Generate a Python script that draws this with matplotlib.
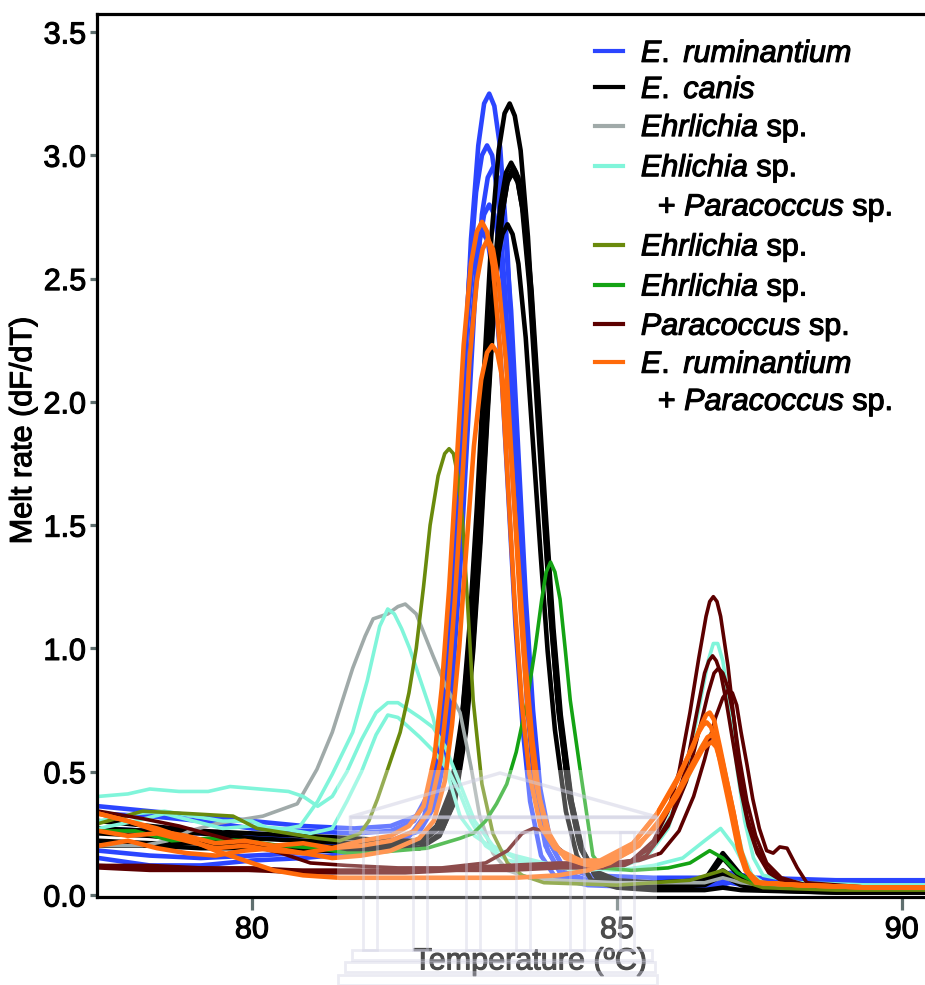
import numpy as np
import matplotlib.pyplot as plt
import matplotlib.patheffects as pe
from matplotlib.lines import Line2D
from matplotlib.patches import Polygon, Rectangle

plt.rcParams['font.family'] = ['Liberation Sans', 'DejaVu Sans']
plt.rcParams['mathtext.fontset'] = 'custom'
plt.rcParams['mathtext.it'] = 'Liberation Sans:italic'
plt.rcParams['mathtext.rm'] = 'Liberation Sans'

# melt curves, (temperature, dF/dT)
ruminantium = [
    [(77.9,.36),(78.6,.34),(79.3,.32),(80.0,.30),(80.7,.28),(81.4,.27),(81.9,.28),(82.25,.32),(82.45,.43),(82.6,.67),(82.7,.99),(82.8,1.47),(82.9,2.06),(83.0,2.66),(83.1,3.04),(83.18,3.21),(83.25,3.25),(83.32,3.2),(83.4,3.03),(83.5,2.61),(83.6,1.98),(83.7,1.34),(83.8,.83),(83.9,.48),(84.05,.23),(84.25,.12),(84.6,.08),(85.5,.07),(86.3,.07),(86.55,.09),(86.9,.07),(88.0,.06),(90.0,.06)],
    [(77.9,.33),(78.6,.32),(79.3,.30),(80.0,.27),(80.7,.26),(81.4,.25),(81.9,.26),(82.22,.3),(82.42,.4),(82.57,.62),(82.67,.93),(82.77,1.37),(82.87,1.93),(82.97,2.48),(83.07,2.85),(83.15,3.0),(83.22,3.04),(83.29,3.0),(83.37,2.83),(83.47,2.44),(83.57,1.84),(83.67,1.25),(83.77,.77),(83.87,.44),(84.02,.2),(84.22,.09),(84.6,.06),(85.5,.05),(86.3,.05),(86.55,.07),(86.9,.05),(88.0,.04),(90.0,.04)],
    [(77.9,.18),(78.6,.16),(79.3,.15),(80.0,.16),(80.7,.17),(81.4,.19),(81.9,.22),(82.25,.26),(82.45,.35),(82.6,.56),(82.7,.84),(82.8,1.25),(82.9,1.77),(83.0,2.28),(83.1,2.62),(83.18,2.76),(83.25,2.8),(83.32,2.76),(83.4,2.61),(83.5,2.25),(83.6,1.7),(83.7,1.14),(83.8,.7),(83.9,.4),(84.05,.18),(84.25,.08),(84.6,.05),(85.5,.04),(86.3,.04),(86.55,.06),(86.9,.04),(88.0,.03),(90.0,.03)],
    [(77.9,.15),(78.6,.12),(79.3,.12),(80.0,.14),(80.7,.15),(81.4,.17),(81.8,.2),(82.16,.24),(82.36,.32),(82.51,.52),(82.61,.8),(82.71,1.2),(82.81,1.69),(82.91,2.19),(83.01,2.52),(83.09,2.65),(83.16,2.69),(83.23,2.65),(83.31,2.5),(83.41,2.16),(83.51,1.63),(83.61,1.09),(83.71,.67),(83.81,.38),(83.96,.16),(84.16,.07),(84.6,.04),(85.5,.03),(86.3,.03),(86.55,.05),(86.9,.03),(88.0,.02),(90.0,.02)],
    [(77.9,.27),(78.6,.26),(79.3,.25),(80.0,.24),(80.7,.22),(81.4,.2),(81.9,.22),(82.3,.26),(82.5,.36),(82.65,.57),(82.75,.88),(82.85,1.31),(82.95,1.86),(83.05,2.4),(83.15,2.76),(83.23,2.91),(83.3,2.95),(83.37,2.91),(83.45,2.75),(83.55,2.37),(83.65,1.79),(83.75,1.21),(83.85,.75),(83.95,.43),(84.1,.2),(84.3,.09),(84.6,.06),(85.5,.05),(86.3,.05),(86.55,.08),(86.9,.06),(88.0,.05),(90.0,.05)],
]
canis = [
    [(77.9,.30),(78.6,.28),(79.3,.26),(80.0,.25),(80.7,.24),(81.4,.23),(81.9,.22),(82.3,.22),(82.53,.28),(82.73,.43),(82.88,.73),(82.98,1.09),(83.08,1.57),(83.18,2.13),(83.28,2.67),(83.38,3.02),(83.46,3.17),(83.53,3.21),(83.6,3.16),(83.68,3.02),(83.78,2.67),(83.88,2.17),(83.98,1.66),(84.08,1.19),(84.18,.81),(84.33,.43),(84.48,.21),(84.68,.1),(85.0,.06),(85.5,.05),(86.2,.06),(86.45,.17),(86.7,.08),(87.0,.04),(88.0,.02),(90.0,.02)],
    [(77.9,.27),(78.6,.26),(79.3,.25),(80.0,.23),(80.7,.22),(81.4,.21),(81.9,.21),(82.3,.21),(82.55,.27),(82.75,.4),(82.9,.68),(83.0,1.01),(83.1,1.45),(83.2,1.98),(83.3,2.47),(83.4,2.79),(83.48,2.93),(83.55,2.97),(83.62,2.93),(83.7,2.79),(83.8,2.47),(83.9,2.0),(84.0,1.53),(84.1,1.09),(84.2,.74),(84.35,.39),(84.5,.19),(84.7,.08),(85.0,.05),(85.5,.04),(86.2,.05),(86.45,.15),(86.7,.07),(87.0,.03),(88.0,.02),(90.0,.02)],
    [(77.9,.22),(78.6,.21),(79.3,.21),(80.0,.2),(80.7,.2),(81.4,.19),(81.9,.19),(82.3,.19),(82.58,.25),(82.78,.38),(82.93,.66),(83.03,.99),(83.13,1.43),(83.23,1.96),(83.33,2.45),(83.43,2.77),(83.51,2.91),(83.58,2.95),(83.65,2.91),(83.73,2.77),(83.83,2.45),(83.93,1.99),(84.03,1.52),(84.13,1.08),(84.23,.73),(84.38,.38),(84.53,.18),(84.73,.07),(85.0,.04),(85.5,.03),(86.2,.04),(86.45,.08),(86.7,.04),(87.0,.02),(88.0,.01),(90.0,.01)],
    [(77.9,.25),(78.6,.24),(79.3,.22),(80.0,.2),(80.7,.19),(81.4,.19),(81.9,.2),(82.3,.21),(82.5,.26),(82.7,.39),(82.85,.64),(82.95,.94),(83.05,1.34),(83.15,1.82),(83.25,2.27),(83.35,2.56),(83.43,2.68),(83.5,2.72),(83.57,2.68),(83.65,2.56),(83.75,2.26),(83.85,1.83),(83.95,1.4),(84.05,.99),(84.15,.67),(84.3,.34),(84.45,.16),(84.65,.06),(85.0,.03),(85.5,.02),(86.2,.02),(86.45,.03),(86.7,.02),(88.0,.01),(90.0,.01)],
    [(77.9,.2),(78.6,.2),(79.3,.19),(80.0,.19),(80.7,.18),(81.4,.18),(81.9,.19),(82.3,.19),(82.57,.24),(82.77,.38),(82.92,.66),(83.02,.98),(83.12,1.42),(83.22,1.94),(83.32,2.44),(83.42,2.75),(83.5,2.89),(83.57,2.93),(83.64,2.89),(83.72,2.76),(83.82,2.44),(83.92,1.98),(84.02,1.51),(84.12,1.08),(84.22,.73),(84.37,.39),(84.52,.18),(84.72,.07),(85.0,.05),(85.5,.04),(86.2,.05),(86.45,.1),(86.7,.05),(87.0,.03),(88.0,.02),(90.0,.02)],
]
ehrlichia_grey = [
    [(77.9,.2),(78.5,.2),(78.84,.22),(79.15,.26),(79.52,.29),(80.15,.32),(80.62,.37),(80.89,.51),(81.1,.66),(81.38,.92),(81.55,1.05),(81.66,1.12),(81.86,1.14),(82.0,1.17),(82.1,1.18),(82.25,1.14),(82.48,.97),(82.65,.85),(82.85,.74),(83.0,.52),(83.12,.32),(83.3,.17),(83.5,.1),(83.8,.07),(84.2,.06),(85.0,.05),(86.2,.05),(86.45,.07),(86.7,.05),(87.0,.04),(88.0,.03),(90.0,.03)],
]
ehrlichia_paracoccus = [
    [(77.9,.3),(78.4,.33),(78.8,.34),(79.2,.32),(79.6,.3),(80.0,.3),(80.3,.26),(80.66,.28),(80.9,.38),(81.1,.49),(81.38,.66),(81.58,.87),(81.75,1.09),(81.86,1.16),(81.95,1.14),(82.05,1.08),(82.16,1.0),(82.32,.86),(82.48,.72),(82.65,.52),(82.85,.32),(83.05,.24),(83.3,.19),(83.6,.16),(84.0,.13),(84.5,.11),(85.0,.1),(85.5,.12),(85.9,.15),(86.2,.22),(86.42,.27),(86.6,.2),(86.8,.09),(87.0,.05),(88.0,.04),(90.0,.04)],
    [(77.9,.4),(78.3,.41),(78.6,.43),(79.0,.42),(79.4,.42),(79.7,.44),(80.1,.43),(80.5,.42),(80.7,.4),(80.9,.36),(81.1,.4),(81.3,.5),(81.5,.63),(81.7,.74),(81.86,.78),(82.0,.78),(82.15,.75),(82.3,.72),(82.48,.68),(82.65,.6),(82.85,.45),(83.05,.3),(83.3,.2),(83.6,.15),(84.0,.12),(84.5,.1),(85.0,.11),(85.4,.15),(85.7,.27),(85.95,.5),(86.15,.8),(86.25,.95),(86.32,1.02),(86.38,1.02),(86.45,.95),(86.55,.75),(86.65,.5),(86.75,.3),(86.87,.15),(87.0,.08),(87.5,.05),(88.5,.04),(90.0,.04)],
    [(77.9,.27),(78.4,.3),(78.8,.33),(79.2,.3),(79.6,.27),(80.0,.28),(80.4,.27),(80.8,.25),(81.1,.27),(81.3,.38),(81.5,.5),(81.7,.65),(81.86,.73),(82.0,.72),(82.15,.68),(82.3,.64),(82.5,.58),(82.7,.5),(82.85,.41),(83.0,.3),(83.2,.2),(83.5,.14),(84.0,.12),(84.5,.1),(85.0,.11),(85.4,.17),(85.7,.3),(85.95,.46),(86.15,.6),(86.3,.66),(86.42,.58),(86.52,.44),(86.62,.3),(86.72,.17),(86.85,.08),(87.0,.05),(88.0,.04),(90.0,.04)],
]
ehrlichia_olive = [
    [(77.9,.29),(78.5,.34),(79.15,.33),(79.74,.32),(80.07,.27),(80.5,.25),(80.9,.23),(81.2,.22),(81.48,.25),(81.6,.3),(81.72,.39),(81.87,.52),(82.03,.66),(82.15,.82),(82.25,1.0),(82.35,1.25),(82.44,1.5),(82.55,1.7),(82.64,1.79),(82.7,1.81),(82.76,1.79),(82.82,1.7),(82.88,1.53),(82.95,1.2),(83.03,.79),(83.15,.45),(83.3,.25),(83.5,.13),(83.7,.08),(84.0,.05),(85.0,.04),(86.0,.06),(86.45,.1),(86.7,.06),(87.0,.03),(88.0,.02),(90.0,.02)],
]
ehrlichia_green = [
    [(77.9,.26),(78.4,.26),(78.9,.22),(79.4,.23),(79.9,.22),(80.4,.2),(80.9,.19),(81.3,.17),(81.6,.17),(82.0,.18),(82.4,.19),(82.85,.23),(83.03,.25),(83.2,.3),(83.35,.37),(83.49,.45),(83.62,.58),(83.77,.79),(83.88,1.0),(83.97,1.2),(84.03,1.31),(84.09,1.35),(84.15,1.31),(84.22,1.2),(84.29,1.0),(84.36,.79),(84.49,.52),(84.59,.32),(84.67,.16),(84.8,.11),(85.2,.1),(85.7,.11),(86.0,.13),(86.27,.18),(86.45,.15),(86.65,.09),(86.9,.05),(87.5,.04),(88.5,.03),(90.0,.03)],
]
paracoccus = [
    [(77.9,.12),(78.6,.11),(79.3,.11),(80.0,.1),(80.7,.09),(81.4,.09),(82.1,.09),(82.8,.1),(83.5,.1),(84.2,.11),(84.8,.11),(85.2,.14),(85.5,.22),(85.7,.34),(85.85,.5),(86.0,.74),(86.12,.96),(86.22,1.13),(86.27,1.19),(86.32,1.21),(86.37,1.19),(86.42,1.13),(86.52,.93),(86.6,.72),(86.68,.5),(86.78,.32),(86.9,.2),(87.05,.11),(87.25,.06),(87.6,.04),(88.5,.03),(90.0,.03)],
    [(77.9,.12),(78.6,.12),(79.3,.11),(80.0,.11),(80.7,.1),(81.4,.1),(82.1,.1),(82.8,.11),(83.5,.11),(84.2,.12),(84.8,.12),(85.2,.14),(85.5,.2),(85.75,.32),(85.95,.52),(86.1,.75),(86.2,.9),(86.26,.95),(86.31,.97),(86.36,.95),(86.42,.9),(86.5,.78),(86.6,.6),(86.7,.42),(86.8,.28),(86.92,.17),(87.08,.09),(87.3,.05),(87.6,.04),(88.5,.03),(90.0,.03)],
    [(77.9,.34),(78.5,.31),(79.0,.28),(79.5,.24),(80.0,.2),(80.4,.17),(80.8,.13),(81.3,.12),(82.0,.11),(82.6,.11),(83.2,.13),(83.5,.18),(83.7,.25),(83.85,.27),(84.0,.26),(84.2,.19),(84.4,.14),(84.7,.12),(85.1,.12),(85.4,.16),(85.7,.28),(85.95,.46),(86.12,.66),(86.25,.82),(86.33,.9),(86.39,.92),(86.45,.9),(86.52,.84),(86.6,.72),(86.68,.55),(86.78,.38),(86.9,.24),(87.05,.13),(87.25,.07),(87.6,.04),(88.5,.03),(90.0,.03)],
    [(77.9,.11),(78.6,.1),(79.3,.1),(80.0,.1),(80.7,.1),(81.4,.1),(82.1,.1),(82.8,.11),(83.5,.12),(84.2,.13),(84.8,.13),(85.3,.14),(85.6,.17),(85.85,.26),(86.05,.4),(86.2,.55),(86.35,.72),(86.45,.8),(86.52,.83),(86.58,.82),(86.64,.77),(86.7,.66),(86.78,.53),(86.86,.39),(86.95,.27),(87.05,.18),(87.14,.17),(87.23,.195),(87.33,.19),(87.47,.11),(87.6,.05),(88.5,.03),(90.0,.03)],
]
ruminantium_paracoccus = [
    [(77.9,.33),(78.3,.3),(78.7,.26),(79.1,.24),(79.5,.21),(79.9,.22),(80.3,.2),(80.7,.21),(81.1,.19),(81.5,.22),(81.9,.24),(82.15,.28),(82.35,.36),(82.5,.56),(82.6,.84),(82.7,1.24),(82.8,1.73),(82.9,2.23),(83.0,2.56),(83.08,2.69),(83.15,2.73),(83.22,2.69),(83.3,2.55),(83.4,2.21),(83.5,1.7),(83.6,1.18),(83.7,.77),(83.8,.49),(83.95,.28),(84.15,.19),(84.5,.14),(84.77,.14),(85.22,.21),(85.55,.33),(85.82,.47),(86.04,.6),(86.14,.68),(86.22,.73),(86.27,.74),(86.33,.71),(86.41,.6),(86.5,.47),(86.6,.33),(86.68,.19),(86.78,.1),(86.92,.05),(87.5,.04),(88.5,.03),(90.0,.03)],
    [(77.9,.26),(78.3,.24),(78.7,.25),(79.1,.22),(79.5,.19),(79.9,.2),(80.3,.18),(80.7,.17),(81.1,.19),(81.5,.2),(81.9,.22),(82.23,.26),(82.43,.34),(82.58,.54),(82.68,.81),(82.78,1.2),(82.88,1.68),(82.98,2.17),(83.08,2.49),(83.16,2.62),(83.23,2.66),(83.3,2.62),(83.38,2.48),(83.48,2.16),(83.58,1.65),(83.68,1.15),(83.78,.74),(83.88,.47),(84.03,.27),(84.23,.17),(84.5,.13),(84.77,.13),(85.2,.2),(85.55,.33),(85.82,.46),(86.0,.58),(86.12,.66),(86.18,.69),(86.23,.7),(86.29,.68),(86.37,.6),(86.47,.46),(86.57,.32),(86.66,.19),(86.76,.1),(86.9,.05),(87.5,.04),(88.5,.03),(90.0,.03)],
    [(77.9,.2),(78.3,.22),(78.7,.19),(79.1,.17),(79.5,.16),(79.9,.18),(80.3,.19),(80.7,.17),(81.1,.15),(81.5,.16),(81.9,.18),(82.29,.23),(82.49,.3),(82.64,.46),(82.74,.69),(82.84,1.01),(82.94,1.42),(83.04,1.82),(83.14,2.09),(83.22,2.2),(83.29,2.23),(83.36,2.2),(83.44,2.08),(83.54,1.81),(83.64,1.39),(83.74,.96),(83.84,.63),(83.94,.39),(84.09,.23),(84.29,.15),(84.6,.12),(84.8,.12),(85.2,.18),(85.55,.28),(85.82,.4),(86.04,.52),(86.17,.59),(86.24,.61),(86.3,.62),(86.36,.6),(86.42,.54),(86.52,.42),(86.61,.3),(86.69,.18),(86.79,.09),(86.93,.05),(87.5,.04),(88.5,.03),(90.0,.03)],
    [(77.9,.33),(78.3,.3),(78.7,.27),(79.1,.23),(79.5,.18),(79.9,.14),(80.3,.1),(80.7,.08),(81.2,.07),(81.8,.07),(82.4,.07),(83.0,.07),(83.6,.07),(84.2,.08),(84.6,.1),(84.9,.13),(85.3,.2),(85.6,.31),(85.85,.43),(86.05,.54),(86.18,.61),(86.24,.64),(86.3,.65),(86.36,.62),(86.43,.56),(86.52,.44),(86.62,.3),(86.7,.18),(86.8,.09),(86.95,.05),(87.5,.04),(88.5,.03),(90.0,.03)],
]

labels = [r'$\mathit{E.}$ $\mathit{ruminantium}$', r'$\mathit{E.}$ $\mathit{canis}$', r'$\mathit{Ehrlichia}$ sp.',
          r'$\mathit{Ehlichia}$ sp.', r'  + $\mathit{Paracoccus}$ sp.', r'$\mathit{Ehrlichia}$ sp.',
          r'$\mathit{Ehrlichia}$ sp.', r'$\mathit{Paracoccus}$ sp.', r'$\mathit{E.}$ $\mathit{ruminantium}$',
          r'  + $\mathit{Paracoccus}$ sp.']
x_ticks = [80, 85, 88.9]
x_ticklabels = ['80', '85', '90']
y_ticks = [0.0, 0.5, 1.0, 1.5, 2.0, 2.5, 3.0, 3.5]

series = [
    (ruminantium, '#2b45ff', 3.3),
    (canis, '#000000', 3.3),
    (ehrlichia_grey, '#a0aaa9', 2.6),
    (ehrlichia_paracoccus, '#80f5da', 2.6),
    (ehrlichia_olive, '#6a8a0c', 2.6),
    (ehrlichia_green, '#14a314', 2.6),
    (paracoccus, '#5c0000', 2.6),
    (ruminantium_paracoccus, '#ff6a0a', 3.3),
]

W, H = 925, 985
fig = plt.figure(figsize=(W/100, H/100), dpi=100)
ax = fig.add_axes([97/W, 88/H, 866/W, 883/H])

for curves, color, lw in series:
    for c in curves:
        t, y = zip(*c)
        ax.plot(t, y, color=color, lw=lw, solid_joinstyle='round', solid_capstyle='round')

heavy = [pe.withStroke(linewidth=0.8, foreground='black')]

ax.set_xlim(77.877, 89.74)
ax.set_ylim(-0.008, 3.573)
ax.set_xticks(x_ticks)
ax.set_xticklabels(x_ticklabels)
ax.set_yticks(y_ticks)
ax.set_yticklabels([f'{v:.1f}' for v in y_ticks])
ax.spines['right'].set_visible(False)
for s in ['left', 'bottom', 'top']:
    ax.spines[s].set_linewidth(2.3)
ax.tick_params(axis='both', labelsize=22, color='#5f6f6f', width=2.3, direction='out')
ax.tick_params(axis='x', length=9, pad=4)
ax.tick_params(axis='y', length=5, pad=3)
for lab in ax.get_xticklabels() + ax.get_yticklabels():
    lab.set_path_effects(heavy)
ax.set_xlabel('Temperature (ºC)', fontsize=22, labelpad=1, path_effects=heavy)
ax.set_ylabel('Melt rate (dF/dT)', fontsize=22, path_effects=heavy)
ax.yaxis.set_label_coords(-0.068, 0.528)

handles = [Line2D([], [], color=color, lw=3) for _, color, _ in series]
handles.insert(4, Line2D([], [], color='none'))
handles.append(Line2D([], [], color='none'))
leg = ax.legend(handles, labels, loc='upper left', bbox_to_anchor=(595/W, 1-39/H),
                bbox_transform=fig.transFigure, frameon=False, fontsize=22,
                handlelength=0.9, handletextpad=0.6, labelspacing=0.2,
                borderpad=0, borderaxespad=0)
for txt in leg.get_texts():
    txt.set_path_effects(heavy)

# faint building watermark at the bottom
def fp(x, y):
    return (x/W, 1 - y/H)

wm = '#cfcfe2'
fig.add_artist(Rectangle(fp(337, 985), 320/W, 215/H, transform=fig.transFigure,
                         facecolor='white', alpha=0.3, edgecolor='none', zorder=5))
fig.add_artist(Polygon([fp(350, 817), fp(500, 773), fp(657, 817)], closed=True, fill=False,
                       edgecolor=wm, lw=2.5, alpha=0.5, transform=fig.transFigure, zorder=6))
fig.add_artist(Rectangle(fp(350, 832), 307/W, 15/H, transform=fig.transFigure, fill=False,
                         edgecolor=wm, lw=2.5, alpha=0.5, zorder=6))
for cx in [370, 420, 473, 523, 577, 627]:
    fig.add_artist(Rectangle(fp(cx-7, 950), 14/W, 118/H, transform=fig.transFigure, fill=False,
                             edgecolor=wm, lw=2, alpha=0.4, zorder=6))
for y0, x0, x1 in [(950, 352, 652), (962, 345, 655), (975, 338, 657)]:
    fig.add_artist(Rectangle(fp(x0, y0+10), (x1-x0)/W, 10/H, transform=fig.transFigure, fill=False,
                             edgecolor=wm, lw=2, alpha=0.4, zorder=6))

fig.savefig('out.png', dpi=100)
